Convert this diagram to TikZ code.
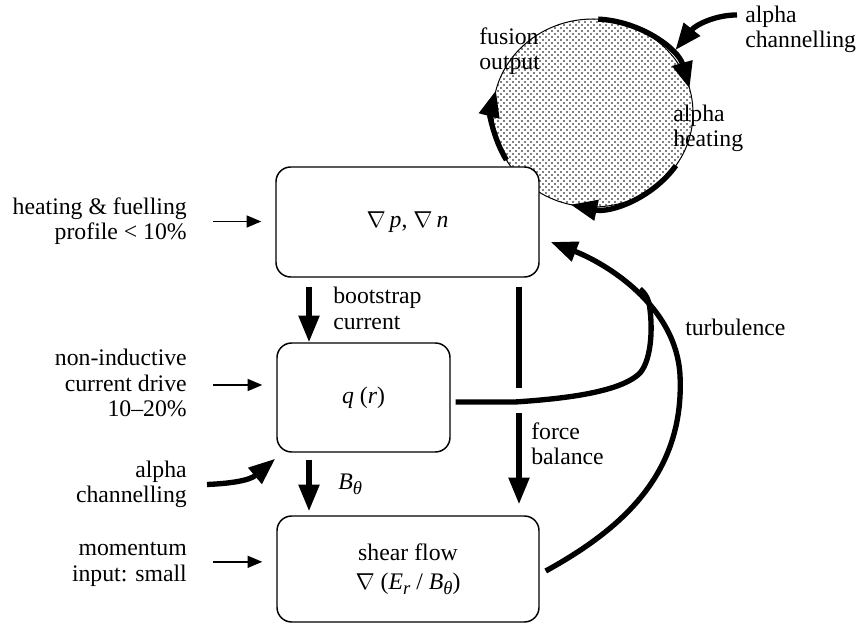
\documentclass[tikz,border=0pt]{standalone}
\usepackage{fontspec}
\setmainfont{Liberation Serif}
\usetikzlibrary{arrows.meta,patterns,shapes.geometric,calc}
\pgfdeclarepatternformonly{plasmadots}{\pgfqpoint{-0.8pt}{-0.8pt}}{\pgfqpoint{3.7pt}{3.7pt}}{\pgfqpoint{4.5pt}{4.5pt}}{%
  \pgfpathcircle{\pgfqpoint{0pt}{0pt}}{0.72pt}%
  \pgfpathcircle{\pgfqpoint{2.25pt}{2.25pt}}{0.72pt}%
  \pgfusepath{fill}}
\newcommand{\mysub}[1]{\raisebox{-0.45ex}{\fontsize{14pt}{14pt}\selectfont\textit{#1}}}
\begin{document}
\begin{tikzpicture}[x=0.75pt,y=0.75pt,
  every node/.style={font=\fontsize{17.8pt}{19pt}\selectfont},
  box/.style={draw, line width=1.1pt, rounded corners=11pt, fill=white, inner sep=0pt, align=center},
  txt/.style={inner sep=0pt},
  smallarrow/.style={line width=1.1pt, -{Triangle[length=11pt,width=9pt]}},
  bigarrow/.style={line width=4pt, -{Triangle[length=20pt,width=15pt]}},
  bigline/.style={line width=4pt}]
\useasboundingbox (0,0) rectangle (857,625);

% plasma circle
\node[ellipse, draw, line width=0.75pt, pattern=plasmadots, pattern color=black,
      minimum width=150pt, minimum height=141pt, inner sep=0pt] (pl) at (593,512) {};
\draw[bigarrow] ([shift={(87:100 and 94)}]pl.center) arc[start angle=87, end angle=15, x radius=100, y radius=94];
\draw[bigarrow] ([shift={(-34:100 and 94)}]pl.center) arc[start angle=-34, end angle=-103, x radius=100, y radius=94];
\draw[bigarrow] ([shift={(210:100 and 94)}]pl.center) arc[start angle=210, end angle=166, x radius=100, y radius=94];

% boxes
\node[box, minimum width=197.25pt, minimum height=82.5pt] (b1) at (407.5,403) {$\nabla$\,\textit{p}, $\nabla$\,\textit{n}};
\node[box, minimum width=129.75pt, minimum height=81.75pt] (b2) at (363.5,227.5) {\textit{q} (\textit{r})};
\node[box, minimum width=196.5pt, minimum height=79.5pt] (b3) at (408,56) {shear flow\\[3pt]$\nabla$ (\textit{E}\mysub{r} / \textit{B}\mysub{θ})};

% left texts
\node[txt, anchor=east, align=right] (t1) at (187,403.5) {heating \& fuelling\\profile < 10\%};
\node[txt, anchor=east, align=right] (t2) at (187,242) {non-inductive\\current drive\\10–20\%};
\node[txt, anchor=east, align=right] (t3) at (187,140.5) {alpha\\channelling};
\node[txt, anchor=east, align=right] (t4) at (187,60.5) {momentum\\input: small};

\draw[smallarrow, shorten <=19.5pt, shorten >=10.5pt] (t1.east) -- (b1.west |- t1.east);
\draw[smallarrow, shorten <=19.5pt, shorten >=10.5pt] ([yshift=-1.5pt]t2.east) -- ([yshift=-1.5pt]b2.west |- t2.east);
\draw[smallarrow, shorten <=19.5pt, shorten >=10.5pt] ([yshift=2pt]t4.east) -- ([yshift=2pt]b3.west |- t4.east);
\draw[bigarrow] ([xshift=15pt]t3.east) .. controls +(23,1) and +(-26,-22) .. ([shift={(-0.75pt,-4.5pt)}]b2.south west);

% vertical arrows
\coordinate (xl) at (309,0);
\coordinate (xr) at (519,0);
\coordinate (g1) at (519,237);
\coordinate (g2) at (519,212);
\draw[bigarrow, shorten <=6.75pt] (b1.south -| xl) -- (b2.north -| xl);
\draw[bigarrow, shorten <=5.25pt, shorten >=3pt] (b2.south -| xl) -- (b3.north -| xl);
\draw[bigline, shorten <=6.75pt] (b1.south -| xr) -- (g1);
\draw[bigarrow, shorten >=8.25pt] (g2) -- (b3.north -| xr);

% q(r) line
\draw[bigline] ([xshift=3.75pt,yshift=-3.4pt]b2.east) -- (515,223)
  .. controls (560,226) and (620,232) .. (640,252)
  .. controls (652,266) and (653,300) .. (649,322)
  .. controls (647,328) and (645,332) .. (640,336);

% turbulence
\draw[bigarrow] ([xshift=4.5pt,yshift=-1.5pt]b3.east) .. controls (620,95) and (685,150) .. (680,250)
  .. controls (676,320) and (605,362) .. ([xshift=8.25pt,yshift=-15pt]b1.east);

% top alpha channelling
\node[txt, anchor=west, align=left] (t5) at (745,595.5) {alpha\\channelling};
\draw[bigarrow] ([shift={(-6pt,10.9pt)}]t5.west) .. controls +(-22,0) and +(20,25) .. ([shift={(39:106 and 100)}]pl.center);

% labels
\node[txt, anchor=west, align=left] (l1) at (333,316.5) {bootstrap\\current};
\node[txt, anchor=west, align=left] (l2) at (531,181.5) {force\\balance};
\node[txt, anchor=base west] (l3) at (338,135) {\textit{B}\mysub{θ}};
\node[txt, anchor=west] (l4) at (685,298) {turbulence};
\node[txt, anchor=west, align=left] (l5) at (479,573.5) {fusion\\output};
\node[txt, anchor=west, align=left] (l6) at (673,496.5) {alpha\\heating};
\end{tikzpicture}
\end{document}
